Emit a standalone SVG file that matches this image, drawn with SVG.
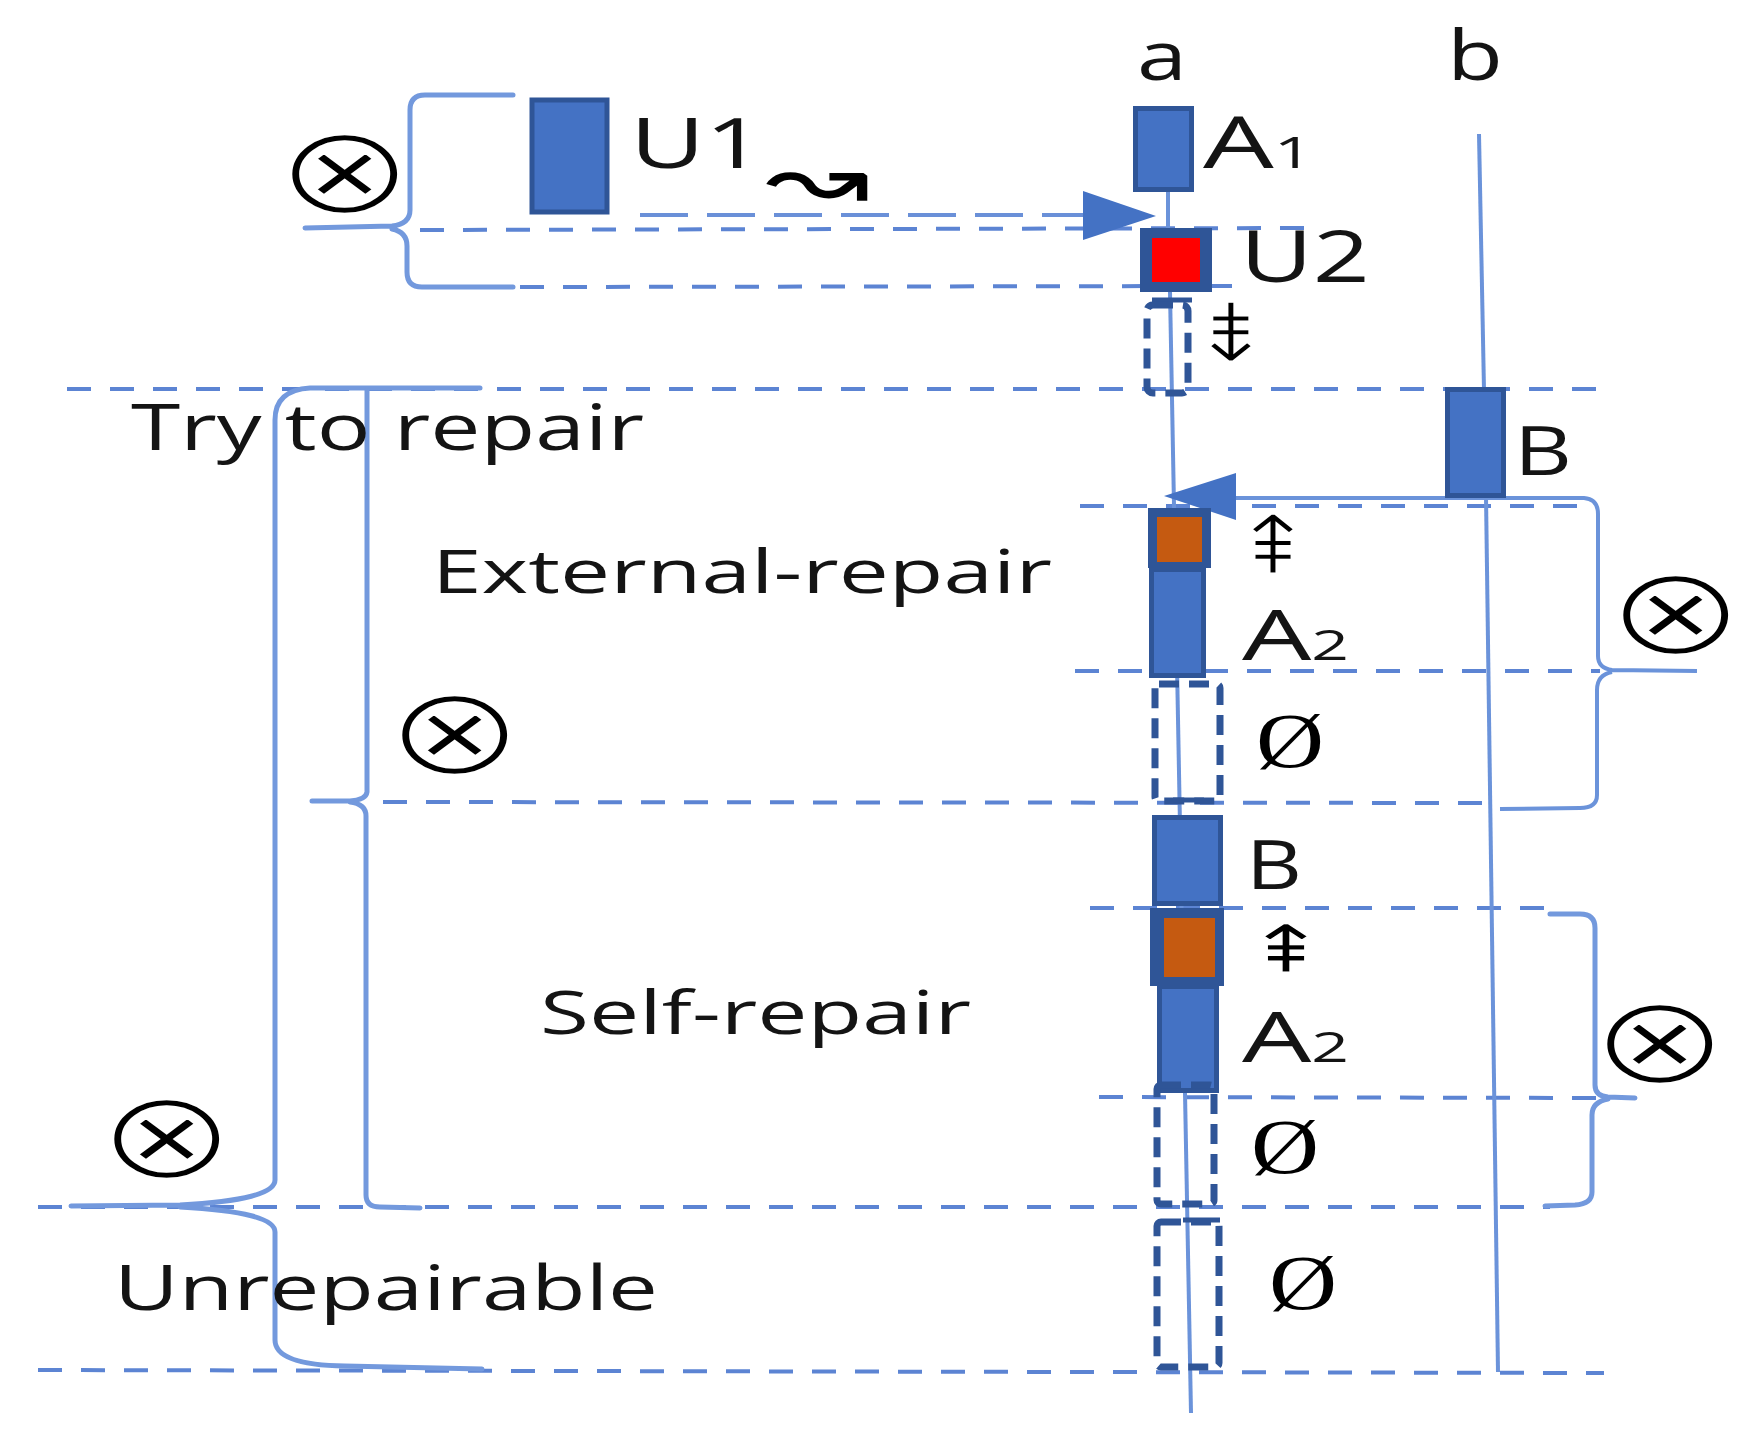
<svg xmlns="http://www.w3.org/2000/svg" width="1746" height="1455" viewBox="0 0 1746 1455">
<style>
.lbl{font-family:"Open Sans","Noto Sans","DejaVu Sans",sans-serif;fill:#141414;}
.sym{font-family:"DejaVu Sans",sans-serif;fill:#000;}
.arw{font-family:"DejaVu Sans",sans-serif;fill:#000;stroke:#fff;stroke-width:2.5;font-size:72px;}
.ox{font-family:"DejaVu Sans",sans-serif;fill:#000;stroke:#fff;stroke-width:4;font-size:124px;}
.phi{font-family:"Liberation Serif","DejaVu Serif",serif;fill:#000;}
.life{stroke:#6B93DA;stroke-width:4;fill:none;}
.brace{stroke:#7399DD;stroke-width:5;fill:none;stroke-linecap:round;}
.dash{stroke:#5C84D3;stroke-width:4;stroke-dasharray:24 19;fill:none;}
.dashL{stroke:#6A90D8;stroke-width:4;stroke-dasharray:48 19;fill:none;}
.blk{fill:#4472C4;stroke:#2F5597;stroke-width:5;}
.drect{fill:none;stroke:#2F5597;stroke-width:7;stroke-dasharray:20 10;}
.mark{stroke:#2F5597;stroke-width:5;fill:none;}
.head{fill:#4472C4;}
</style>
<rect width="1746" height="1455" fill="#fff"/>

<g id="guides">
  <line class="dashL" x1="640" y1="215" x2="1086" y2="215"/>
  <line class="dash" x1="420" y1="230" x2="1305" y2="228"/>
  <line class="dash" x1="520" y1="287" x2="1233" y2="286"/>
  <line class="dash" x1="67" y1="389" x2="1598" y2="389"/>
  <line class="dash" x1="1080" y1="506" x2="1590" y2="506"/>
  <line class="dash" x1="1075" y1="671" x2="1600" y2="671"/>
  <line class="dash" x1="383" y1="802" x2="1496" y2="803"/>
  <line class="dash" x1="1090" y1="908" x2="1545" y2="908"/>
  <line class="dash" x1="1099" y1="1097" x2="1600" y2="1098"/>
  <line class="dash" x1="38" y1="1207" x2="1550" y2="1207"/>
  <line class="dash" x1="38" y1="1370" x2="1604" y2="1373"/>
</g>

<g id="lifelines">
  <line class="life" x1="1168" y1="190" x2="1168" y2="230"/>
  <line class="life" x1="1170" y1="292" x2="1191" y2="1413"/>
  <line class="life" x1="1479" y1="134" x2="1484" y2="390"/>
  <line class="life" x1="1486" y1="496" x2="1498" y2="1372"/>
</g>

<g id="connectors">
  <polygon class="head" points="1083,191 1156,216 1083,240"/>
  <path class="life" d="M1235,498 H1584 Q1598,499 1598,514 V656 Q1598,668 1612,670 L1697,671 M1612,672 Q1597,675 1597,690 V795 Q1597,808 1580,808 L1500,809"/>
  <polygon class="head" points="1164,496 1236,473 1236,520"/>
</g>

<g id="braces">
  <path class="brace" d="M513,95 H425 Q410,95 410,110 V210 Q410,224 392,226 L305,228 M392,229 Q407,232 407,246 V272 Q407,287 422,287 H513"/>
  <path class="brace" d="M480,388 H310 Q275,390 275,420 V1180 Q275,1200 180,1205 L71,1206 M180,1207 Q275,1212 275,1232 V1340 Q275,1365 345,1366 L482,1369"/>
  <path class="brace" d="M367,390 V792 Q366,800 350,801 L312,801 M350,802 Q366,804 366,816 V1195 Q366,1207 380,1207 L420,1208"/>
  <path class="brace" d="M1550,914 H1580 Q1595,914 1595,928 V1085 Q1595,1096 1608,1097 L1635,1098 M1608,1099 Q1592,1102 1592,1115 V1192 Q1592,1204 1575,1205 L1545,1206"/>
</g>

<g id="node-U1">
  <rect class="blk" x="532" y="100" width="75" height="112" stroke-width="6"/>
  <text class="lbl" x="630" y="168" font-size="70" textLength="134" lengthAdjust="spacingAndGlyphs">U1</text>
  <text class="sym" x="765" y="210" font-size="92" textLength="105" lengthAdjust="spacingAndGlyphs">↝</text>
</g>

<g id="node-A1">
  <rect class="blk" x="1135.5" y="108.5" width="56" height="81"/>
  <text class="lbl" x="1203" y="168" font-size="72" textLength="110" lengthAdjust="spacingAndGlyphs">A<tspan font-size="44">1</tspan></text>
</g>

<g id="node-U2">
  <rect x="1140" y="228" width="72" height="64" fill="#2F5597"/>
  <rect x="1152" y="238" width="48" height="44" fill="#FF0000"/>
  <text class="lbl" x="1240" y="282" font-size="72" textLength="130" lengthAdjust="spacingAndGlyphs">U2</text>
  <line class="mark" x1="1152" y1="300" x2="1192" y2="300"/>
  <rect class="drect" x="1147" y="305" width="41" height="88" rx="6"/>
  <text class="arw" text-anchor="middle" transform="translate(1231,362) scale(1.45,1.15)">⇟</text>
</g>

<g id="node-B-top">
  <rect class="blk" x="1447.5" y="389.5" width="56" height="106"/>
  <text class="lbl" x="1514" y="475" font-size="67" textLength="58" lengthAdjust="spacingAndGlyphs">B</text>
</g>

<g id="label-try">
  <text class="lbl" x="131" y="450" font-size="64" textLength="513" lengthAdjust="spacingAndGlyphs">Try to repair</text>
</g>

<g id="node-A2-external">
  <rect x="1148" y="508" width="63" height="60" fill="#2F5597"/>
  <rect x="1157" y="517" width="45" height="45" fill="#C55A11"/>
  <rect class="blk" x="1151.5" y="569.5" width="52" height="106"/>
  <text class="arw" text-anchor="middle" transform="translate(1273,574) scale(1.45,1.15)">⇞</text>
  <text class="lbl" x="1242" y="660" font-size="70" textLength="107" lengthAdjust="spacingAndGlyphs">A<tspan font-size="42">2</tspan></text>
  <text class="lbl" x="432" y="593" font-size="60" textLength="620" lengthAdjust="spacingAndGlyphs">External-repair</text>
</g>

<g id="node-null-1">
  <rect class="drect" x="1155" y="684" width="65" height="117" rx="4"/>
  <line class="mark" x1="1173" y1="800" x2="1204" y2="800"/>
  <text class="phi" x="1256" y="767" font-size="78" textLength="68" lengthAdjust="spacingAndGlyphs">Ø</text>
</g>

<g id="node-B-mid">
  <rect class="blk" x="1154.5" y="817.5" width="66" height="86"/>
  <text class="lbl" x="1246" y="889" font-size="67" textLength="56" lengthAdjust="spacingAndGlyphs">B</text>
</g>

<g id="node-A2-self">
  <rect x="1150" y="908" width="74" height="78" fill="#2F5597"/>
  <rect x="1164" y="918" width="51" height="59" fill="#C55A11"/>
  <rect class="blk" x="1159.5" y="986.5" width="57" height="104"/>
  <text class="arw" text-anchor="middle" style="font-size:60px;stroke-width:1" transform="translate(1286,972) scale(1.7,1.1)">⇞</text>
  <text class="lbl" x="1242" y="1062" font-size="70" textLength="107" lengthAdjust="spacingAndGlyphs">A<tspan font-size="42">2</tspan></text>
  <text class="lbl" x="540" y="1034" font-size="60" textLength="431" lengthAdjust="spacingAndGlyphs">Self-repair</text>
</g>

<g id="node-null-2">
  <rect class="drect" x="1157" y="1085" width="57" height="119" rx="4"/>
  <text class="phi" x="1251" y="1173" font-size="78" textLength="68" lengthAdjust="spacingAndGlyphs">Ø</text>
</g>

<g id="node-null-3">
  <line class="mark" x1="1183" y1="1220" x2="1220" y2="1220"/>
  <rect class="drect" x="1157" y="1222" width="62" height="145" rx="4"/>
  <text class="phi" x="1269" y="1309" font-size="78" textLength="68" lengthAdjust="spacingAndGlyphs">Ø</text>
  <text class="lbl" x="114" y="1310" font-size="63" textLength="544" lengthAdjust="spacingAndGlyphs">Unrepairable</text>
</g>

<g id="headers">
  <text class="lbl" x="1137" y="80" font-size="68" textLength="50" lengthAdjust="spacingAndGlyphs">a</text>
  <text class="lbl" x="1447" y="80" font-size="70" textLength="56" lengthAdjust="spacingAndGlyphs">b</text>
</g>

<g id="symbols">
  <text class="ox" text-anchor="middle" transform="translate(345,213) scale(1.36,1)">⊗</text>
  <text class="ox" text-anchor="middle" transform="translate(455,774) scale(1.36,1)">⊗</text>
  <text class="ox" text-anchor="middle" transform="translate(167,1178) scale(1.36,1)">⊗</text>
  <text class="ox" text-anchor="middle" transform="translate(1676,654) scale(1.36,1)">⊗</text>
  <text class="ox" text-anchor="middle" transform="translate(1660,1083) scale(1.36,1)">⊗</text>
</g>
</svg>
